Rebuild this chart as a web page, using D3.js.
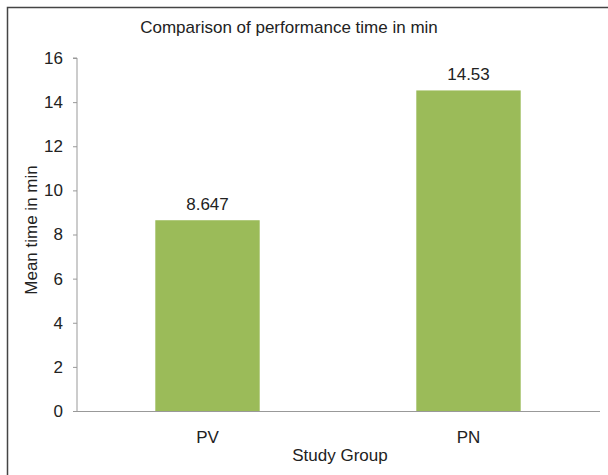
<!DOCTYPE html>
<html><head><meta charset="utf-8">
<script src="https://cdn.jsdelivr.net/npm/d3@7/dist/d3.min.js"></script>
<style>body{margin:0;background:#fff}svg{display:block}text{font-family:"Liberation Sans",Arial,sans-serif;fill:#222}</style>
</head><body>
<script>
const categories = ["PV", "PN"];
const values = [8.647, 14.53];
const valueLabels = ["8.647", "14.53"];
const yTicks = [0, 2, 4, 6, 8, 10, 12, 14, 16];
const title = "Comparison of performance time in min";
const xTitle = "Study Group";
const yTitle = "Mean time in min";

const W = 608, H = 475;
const FS = 17;
const svg = d3.select("body").append("svg").attr("width", W).attr("height", H);
svg.append("rect").attr("x", 7.5).attr("y", 7.5).attr("width", W + 10).attr("height", H + 10)
  .attr("fill", "none").attr("stroke", "#444").attr("stroke-width", 1.5);

const x0 = 77, x1 = 599, yTop = 58, yBot = 411;
const x = d3.scaleBand().domain(categories).range([x0, x1]).paddingInner(0.6).paddingOuter(0.3);
const y = d3.scaleLinear().domain([0, 16]).range([yBot, yTop]);

svg.selectAll("rect.bar").data(values).enter().append("rect").attr("class", "bar")
  .attr("x", (d, i) => x(categories[i])).attr("width", x.bandwidth())
  .attr("y", d => y(d)).attr("height", d => y(0) - y(d)).attr("fill", "#9bbb59");

const ya = svg.append("g").attr("transform", `translate(${x0},0)`)
  .call(d3.axisLeft(y).tickValues(yTicks).tickSize(4).tickPadding(10).tickFormat(d3.format("d")));
ya.select(".domain").attr("stroke", "#999").attr("d", `M-4,${yTop}H0V${yBot}`);
ya.selectAll(".tick line").attr("stroke", "#999");
ya.selectAll("text").attr("font-size", FS).attr("fill", "#222").attr("font-family", "Liberation Sans, Arial, sans-serif");

const xa = svg.append("g").attr("transform", `translate(0,${yBot})`)
  .call(d3.axisBottom(x).tickSize(0).tickPadding(20));
xa.select(".domain").attr("stroke", "#999").attr("d", `M${x0 - 4},0.5H${x1 + 1}`);
xa.selectAll("text").attr("font-size", FS).attr("fill", "#222").attr("font-family", "Liberation Sans, Arial, sans-serif");

svg.selectAll("text.vl").data(values).enter().append("text").attr("class", "vl")
  .attr("x", (d, i) => x(categories[i]) + x.bandwidth() / 2).attr("y", d => y(d) - 10)
  .attr("text-anchor", "middle").attr("font-size", FS).text((d, i) => valueLabels[i]);

svg.append("text").attr("x", 289).attr("y", 33).attr("text-anchor", "middle").attr("font-size", FS).text(title);
svg.append("text").attr("x", 340).attr("y", 461).attr("text-anchor", "middle").attr("font-size", FS).text(xTitle);
svg.append("text").attr("transform", `translate(37,230) rotate(-90)`).attr("text-anchor", "middle").attr("font-size", FS).text(yTitle);
</script>
</body></html>
